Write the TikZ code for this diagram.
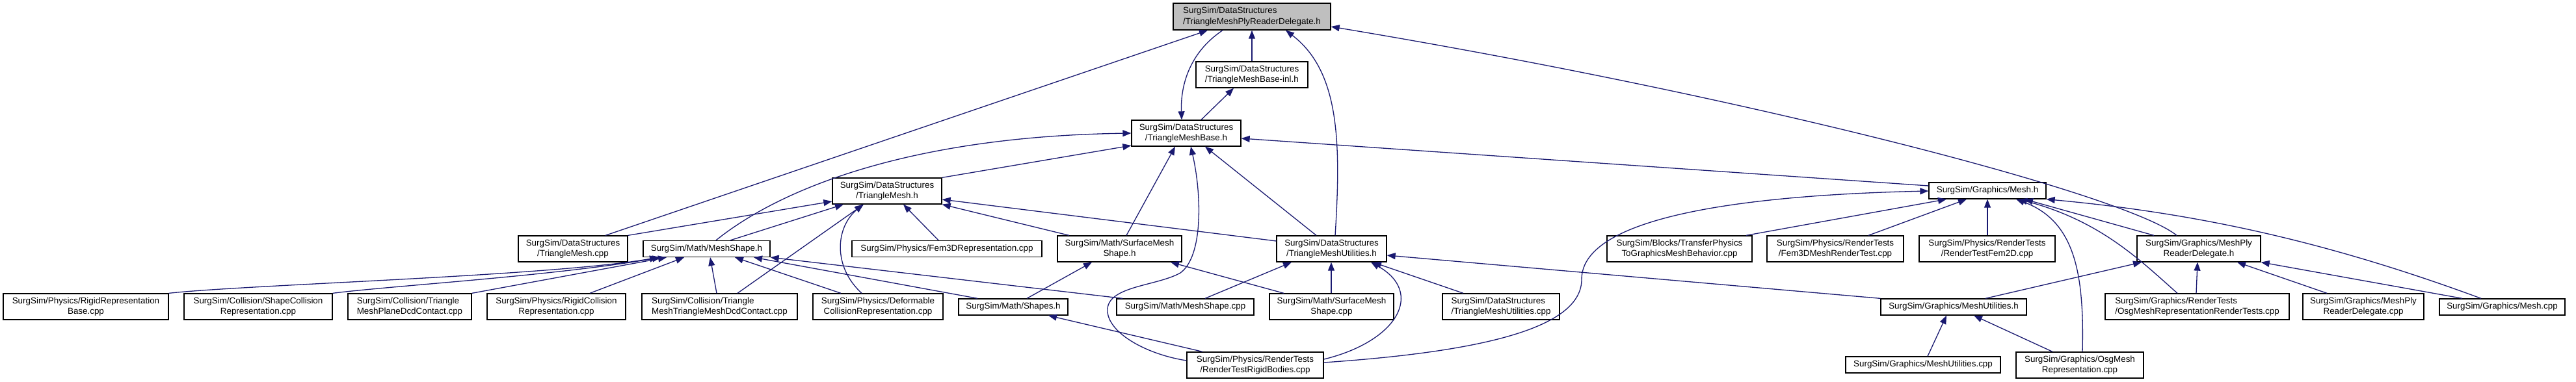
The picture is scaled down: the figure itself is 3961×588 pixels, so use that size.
\documentclass[tikz,border=0pt]{standalone}
\usepackage{fontspec}
\setmainfont{Liberation Sans}
\usetikzlibrary{arrows.meta}
\definecolor{edgec}{HTML}{191970}
\definecolor{rootc}{HTML}{BFBFBF}
\newcommand\dfont{\fontsize{13.4}{16.7}\selectfont}
\begin{document}
\begin{tikzpicture}[x=1pt,y=-1pt,
  box/.style={draw=black, line width=1.3pt, rectangle, inner sep=0pt, align=center, font=\dfont, fill=white},
  two/.style={box, minimum height=40pt},
  one/.style={box, minimum height=25pt},
  e/.style={draw=edgec, line width=1.3pt, -{Triangle[length=13pt,width=10pt]}}]
\useasboundingbox[fill=white] (0,0) rectangle (3961,588);
% edges first (nodes drawn later on top)
\begin{scope}[on background layer/.style={}]
\end{scope}
% ---------------- nodes ----------------
\node[two, fill=rootc, minimum width=242pt, minimum height=41pt, align=left] (gray) at (1925,25.5) {SurgSim/DataStructures\\/TriangleMeshPlyReaderDelegate.h};
\node[two, minimum width=172pt, align=left] (inl) at (1925,115) {SurgSim/DataStructures\\/TriangleMeshBase-inl.h};
\node[two, minimum width=168pt] (base) at (1824,205) {SurgSim/DataStructures\\/TriangleMeshBase.h};
\node[two, minimum width=168pt] (tmh) at (1364,294) {SurgSim/DataStructures\\/TriangleMesh.h};
\node[one, minimum width=180pt] (meshh) at (3056,293.5) {SurgSim/Graphics/Mesh.h};
\node[two, minimum width=168pt] (tmcpp) at (881,383) {SurgSim/DataStructures\\/TriangleMesh.cpp};
\node[one, minimum width=195pt] (msh) at (1086.5,383) {SurgSim/Math/MeshShape.h};
\node[one, minimum width=292pt] (fem3d) at (1456,383) {SurgSim/Physics/Fem3DRepresentation.cpp};
\node[two, minimum width=191pt] (smsh) at (1721.5,383) {SurgSim/Math/SurfaceMesh\\Shape.h};
\node[two, minimum width=169pt] (tmuh) at (2047.5,383) {SurgSim/DataStructures\\/TriangleMeshUtilities.h};
\node[two, minimum width=223pt] (blocks) at (2582.5,383) {SurgSim/Blocks/TransferPhysics\\ToGraphicsMeshBehavior.cpp};
\node[two, minimum width=210pt] (fem3dmesh) at (2822,383) {SurgSim/Physics/RenderTests\\/Fem3DMeshRenderTest.cpp};
\node[two, minimum width=209pt] (fem2d) at (3055.5,383) {SurgSim/Physics/RenderTests\\/RenderTestFem2D.cpp};
\node[two, minimum width=190pt] (gmply) at (3381,383) {SurgSim/Graphics/MeshPly\\ReaderDelegate.h};
\node[two, minimum width=254pt] (rrb) at (132,472) {SurgSim/Physics/RigidRepresentation\\Base.cpp};
\node[two, minimum width=228pt] (scr) at (397,472) {SurgSim/Collision/ShapeCollision\\Representation.cpp};
\node[two, minimum width=190pt, align=left] (tmpdc) at (630,472) {SurgSim/Collision/Triangle\\MeshPlaneDcdContact.cpp};
\node[two, minimum width=213pt] (rcr) at (855.5,472) {SurgSim/Physics/RigidCollision\\Representation.cpp};
\node[two, minimum width=239pt, align=left] (tmtmdc) at (1106.5,472) {SurgSim/Collision/Triangle\\MeshTriangleMeshDcdContact.cpp};
\node[two, minimum width=200pt] (dcr) at (1350,472) {SurgSim/Physics/Deformable\\CollisionRepresentation.cpp};
\node[one, minimum width=168pt] (shapes) at (1558,472.5) {SurgSim/Math/Shapes.h};
\node[one, minimum width=211pt] (mscpp) at (1822.5,472.5) {SurgSim/Math/MeshShape.cpp};
\node[two, minimum width=191pt] (smscpp) at (2047.5,472) {SurgSim/Math/SurfaceMesh\\Shape.cpp};
\node[two, minimum width=180pt, align=left] (tmucpp) at (2308,472) {SurgSim/DataStructures\\/TriangleMeshUtilities.cpp};
\node[one, minimum width=224pt] (gmuh) at (3004,472.5) {SurgSim/Graphics/MeshUtilities.h};
\node[two, minimum width=283pt, align=left] (osgrt) at (3378.5,472) {SurgSim/Graphics/RenderTests\\/OsgMeshRepresentationRenderTests.cpp};
\node[two, minimum width=186pt] (gmplycpp) at (3634,472) {SurgSim/Graphics/MeshPly\\ReaderDelegate.cpp};
\node[one, minimum width=193pt] (meshcpp) at (3847.5,472.5) {SurgSim/Graphics/Mesh.cpp};
\node[two, minimum width=210pt] (rtrb) at (1930,562) {SurgSim/Physics/RenderTests\\/RenderTestRigidBodies.cpp};
\node[one, minimum width=238pt] (gmucpp) at (2957,561.5) {SurgSim/Graphics/MeshUtilities.cpp};
\node[two, minimum width=196pt] (osgmr) at (3198,562) {SurgSim/Graphics/OsgMesh\\Representation.cpp};
% ---------------- edges ----------------
\draw[e] (inl.north -| 1925,0) -- (gray.south -| 1925,0);
\draw[e] (gray.south -| 1880,0) .. controls (1830,80) and (1815,130) .. (base.north -| 1817,0);
\draw[e] (base.north -| 1847,0) -- (inl.south -| 1897,0);
\draw[e] (tmcpp.north -| 931,0) -- (gray.south -| 1857,0);
\draw[e] (msh.north -| 1101,0) .. controls (1200,290) and (1400,210) .. (base.west |- 0,205);
\draw[e] (tmh.north east) -- (base.west |- 0,224);
\draw[e] (smsh.north -| 1732,0) -- (base.south -| 1807,0);
\draw[e] (rtrb.west |- 0,555) .. controls (1760,545) and (1700,510) .. (1703,475) .. controls (1706,440) and (1780,440) .. (1815,420) .. controls (1850,395) and (1848,300) .. (base.south -| 1831,0);
\draw[e] (tmuh.north -| 2024,0) -- (base.south -| 1853,0);
\draw[e] (meshh.west |- 0,286) -- (base.east |- 0,213);
\draw[e] (tmuh.north -| 2053,0) .. controls (2062,220) and (2060,110) .. (gray.south -| 1977,0);
\draw[e] (gmply.north -| 3347,0) .. controls (3270,300) and (2700,150) .. (gray.east |- 0,41);
\draw[e] (tmcpp.north east) -- (tmh.west |- 0,310);
\draw[e] (msh.north -| 1123,0) -- (tmh.south -| 1297,0);
\draw[e] (fem3d.north -| 1443,0) -- (tmh.south -| 1389,0);
\draw[e] (smsh.north -| 1644,0) -- (tmh.south east);
\draw[e] (tmuh.west |- 0,371) -- (tmh.east |- 0,307);
\draw[e] (tmtmdc.north -| 1134,0) -- (tmh.south -| 1328,0);
\draw[e] (dcr.north -| 1325,0) .. controls (1280,410) and (1285,350) .. (tmh.south -| 1327,0);
\draw[e] (rrb.north east) .. controls (380,438) and (850,425) .. (msh.south -| 1012,0);
\draw[e] (scr.north east) .. controls (600,440) and (850,425) .. (msh.south -| 1016,0);
\draw[e] (tmpdc.north east) -- (msh.south -| 1025,0);
\draw[e] (rcr.north -| 907,0) -- (msh.south -| 1052,0);
\draw[e] (tmtmdc.north -| 1102,0) -- (msh.south -| 1092,0);
\draw[e] (dcr.north -| 1293,0) -- (msh.south -| 1130,0);
\draw[e] (shapes.north -| 1503,0) -- (msh.south -| 1159,0);
\draw[e] (mscpp.north -| 1726,0) -- (msh.south east);
\draw[e] (shapes.north -| 1579,0) -- (smsh.south -| 1679,0);
\draw[e] (smscpp.north -| 1974,0) -- (smsh.south -| 1800,0);
\draw[e] (rtrb.north -| 1849,0) -- (shapes.south -| 1612,0);
\draw[e] (mscpp.north -| 1853,0) -- (tmuh.south -| 1986,0);
\draw[e] (smscpp.north -| 2047,0) -- (tmuh.south -| 2047,0);
\draw[e] (tmucpp.north -| 2250,0) -- (tmuh.south -| 2111,0);
\draw[e] (rtrb.east |- 0,553) .. controls (2150,525) and (2190,450) .. (tmuh.south -| 2108,0);
\draw[e] (gmuh.north west) -- (tmuh.east |- 0,393);
\draw[e] (rtrb.east |- 0,558) .. controls (2300,540) and (2432,500) .. (2432,430) .. controls (2432,330) and (2700,300) .. (meshh.west |- 0,294);
\draw[e] (blocks.north -| 2685,0) -- (meshh.south -| 2993,0);
\draw[e] (fem3dmesh.north -| 2873,0) -- (meshh.south -| 3024,0);
\draw[e] (fem2d.north -| 3056,0) -- (meshh.south -| 3056,0);
\draw[e] (osgmr.north -| 3202,0) .. controls (3205,420) and (3190,340) .. (meshh.south -| 3100,0);
\draw[e] (osgrt.north -| 3348,0) .. controls (3290,400) and (3230,340) .. (meshh.south -| 3104,0);
\draw[e] (gmply.north -| 3312,0) -- (meshh.south -| 3113,0);
\draw[e] (meshcpp.north -| 3815,0) .. controls (3600,380) and (3400,330) .. (meshh.south east);
\draw[e] (gmuh.north -| 3053,0) -- (gmply.south -| 3293,0);
\draw[e] (osgrt.north -| 3377,0) -- (gmply.south -| 3379,0);
\draw[e] (gmplycpp.north -| 3578,0) -- (gmply.south -| 3440,0);
\draw[e] (meshcpp.north -| 3786,0) -- (gmply.south east);
\draw[e] (gmucpp.north -| 2964,0) -- (gmuh.south -| 2993,0);
\draw[e] (osgmr.north -| 3156,0) -- (gmuh.south -| 3035,0);
\end{tikzpicture}
\end{document}
